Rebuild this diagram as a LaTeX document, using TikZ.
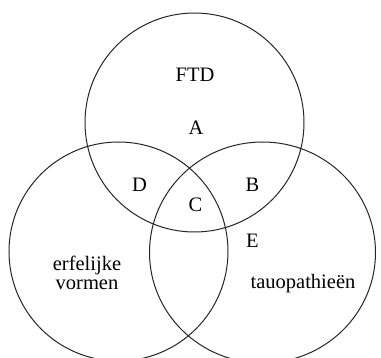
\documentclass[tikz,border=0pt]{standalone}
\usepackage{fontspec}
\setmainfont{Liberation Serif}
\usetikzlibrary{positioning}
\tikzset{
  venn/.style={draw=black!85, line width=1pt},
  lbl/.style={inner sep=0pt, anchor=base, font=\fontsize{20.5}{19}\selectfont},
}
\begin{document}
\begin{tikzpicture}[x=1pt,y=-1pt]
  \useasboundingbox (0,0) rectangle (381,358);
  \clip (0,0) rectangle (381,358);
  % de drie cirkels
  \draw[venn] (194.5,122.5) circle[radius=109.5];
  \draw[venn] (118.5,251.5) circle[radius=109.5];
  \draw[venn] (262.5,252.5) ellipse[x radius=113, y radius=110.5];
  % namen en gebieden
  \node[lbl] (ftd) at (195,82) {FTD};
  \node[lbl] (gebiedA) at (196,135) {A};
  \node[lbl] (gebiedD) at (139.5,192) {D};
  \node[lbl] (gebiedB) at (252.5,192) {B};
  \node[lbl] (gebiedC) at (195.5,212) {C};
  \node[lbl] (gebiedE) at (252.5,248) {E};
  \node[lbl, align=center] (erfelijk) at (87,290) {erfelijke\\vormen};
  \node[lbl] (tauo) at (303,289) {tauopathieën};
\end{tikzpicture}
\end{document}
